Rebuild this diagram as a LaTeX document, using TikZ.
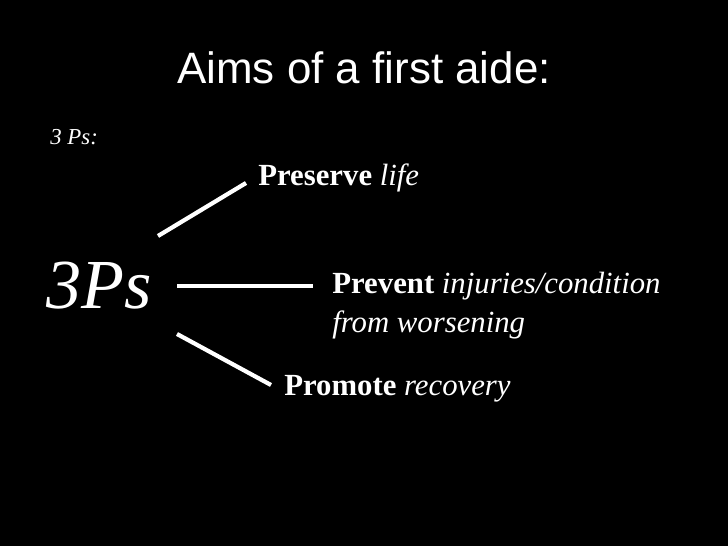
\documentclass[tikz,border=0pt]{standalone}
\usepackage{fontspec}
\setmainfont{Liberation Serif}
\setsansfont{Liberation Sans}
\usetikzlibrary{positioning}
\tikzset{
  arm/.style={white, line width=2.4pt},
  point/.style={anchor=west, inner sep=0pt, white, font=\fontsize{17.5}{22}\selectfont\itshape}
}
\begin{document}
\begin{tikzpicture}[x=0.02cm, y=-0.02cm]
	%%%%% BACKGROUND %%%%%
	\fill[black] (0,0) rectangle (728,546);
	\useasboundingbox (0,0) rectangle (728,546);
	
	\node[white, font=\sffamily\fontsize{25}{28}\selectfont] (title) at (364,68) {Aims of a first aide:};
	\node[white, anchor=west, inner sep=0pt, font=\fontsize{13}{15}\selectfont\itshape] (sub) at (50,137) {3 Ps:};
	\node[white, anchor=west, inner sep=0pt, font=\fontsize{40}{44}\selectfont\itshape] (ps) at (46,286) {3Ps};
	
	%%%%% POINTS %%%%%
	\node[point] (preserve) at (258,178) {\textbf{\upshape Preserve} life};
	\node[point, align=left, anchor=north west] (prevent) at (332,272) {\textbf{\upshape Prevent} injuries/condition\\from worsening};
	\node[point] (promote) at (284,389) {\textbf{\upshape Promote} recovery};
	
	%%%%% ARMS %%%%%
	\coordinate (a1) at (158,236); \coordinate (b1) at (246,183);
	\coordinate (a2) at (177,286); \coordinate (b2) at (313,286);
	\coordinate (a3) at (177,334); \coordinate (b3) at (271,385);
	\draw[arm] (a1) -- (b1);
	\draw[arm] (a2) -- (b2);
	\draw[arm] (a3) -- (b3);
\end{tikzpicture}
\end{document}
